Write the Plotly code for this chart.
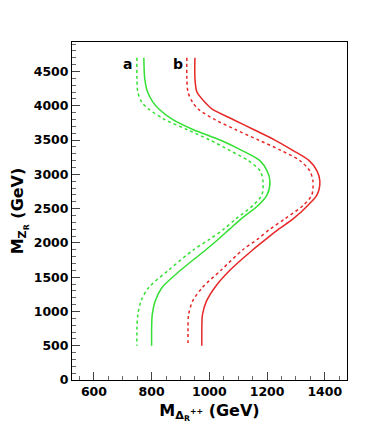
import plotly.graph_objects as go

# curve a: green, b: red (solid and dotted variants)
y_vals = [4700, 4400, 4200, 4050, 3950, 3800, 3650, 3500, 3350, 3200, 3050,
          2900, 2700, 2550, 2350, 2200, 2050, 1900, 1600, 1350, 1150, 950, 750, 500]

a_solid = [773, 776, 786, 805, 826, 872, 945, 1037, 1112, 1175, 1200,
           1210, 1200, 1170, 1110, 1070, 1030, 988, 900, 836, 812, 802, 800, 800]
a_dot = [749, 749, 752, 766, 790, 845, 924, 1002, 1070, 1135, 1176,
         1186, 1182, 1152, 1092, 1050, 1000, 945, 858, 790, 763, 752, 749, 749]
b_solid = [950, 950, 957, 985, 1010, 1082, 1155, 1227, 1289, 1346, 1373,
           1383, 1373, 1342, 1290, 1240, 1195, 1151, 1071, 1019, 990, 976, 974, 974]
b_dot = [922, 922, 926, 942, 962, 1018, 1092, 1170, 1248, 1314, 1348,
         1359, 1355, 1326, 1262, 1210, 1166, 1116, 1040, 976, 942, 928, 926, 926]

GREEN = "#33e033"
RED = "#e62828"
FONT = "DejaVu Sans"

fig = go.Figure()
for xs, color, dash in [
    (a_dot, GREEN, "dot"),
    (a_solid, GREEN, "solid"),
    (b_dot, RED, "dot"),
    (b_solid, RED, "solid"),
]:
    fig.add_trace(
        go.Scatter(
            x=xs,
            y=y_vals,
            mode="lines",
            line=dict(color=color, width=1.5, dash=dash, shape="spline", smoothing=0.8),
            showlegend=False,
        )
    )

for text, x in [("a", 718), ("b", 893)]:
    fig.add_annotation(
        x=x, y=4610, text=text, showarrow=False,
        font=dict(family=FONT, size=14, color="black", weight="bold"),
    )

tickfont = dict(family=FONT, size=12.5, color="black", weight="bold")
titlefont = dict(family=FONT, size=16, color="black", weight="bold")

fig.update_xaxes(
    range=[524, 1477],
    tickvals=[600, 800, 1000, 1200, 1400],
    ticks="inside", ticklen=8, tickcolor="#444",
    minor=dict(dtick=50, tick0=0, ticks="inside", ticklen=4, tickcolor="#666"),
    showline=True, linecolor="black", linewidth=1, mirror=True,
    showgrid=False, zeroline=False,
    tickfont=tickfont,
    title=dict(text="M<sub>Δ<sub>R</sub><sup>++</sup></sub> (GeV)", font=titlefont, standoff=6),
)
fig.update_yaxes(
    range=[0, 4930],
    tickvals=[0, 500, 1000, 1500, 2000, 2500, 3000, 3500, 4000, 4500],
    ticks="inside", ticklen=8, tickcolor="#444",
    minor=dict(dtick=100, tick0=0, ticks="inside", ticklen=4, tickcolor="#666"),
    showline=True, linecolor="black", linewidth=1, mirror=True,
    showgrid=False, zeroline=False,
    tickfont=tickfont,
    title=dict(text="M<sub>Z<sub>R</sub></sub> (GeV)", font=titlefont, standoff=6),
)

# page body has an 8px margin, so the figure is shrunk and shifted to compensate
fig.update_layout(
    width=378,
    height=428,
    template="plotly_white",
    plot_bgcolor="white",
    paper_bgcolor="white",
    margin=dict(l=64, r=39, t=34, b=56, autoexpand=False),
)

fig.write_html("out.html")
